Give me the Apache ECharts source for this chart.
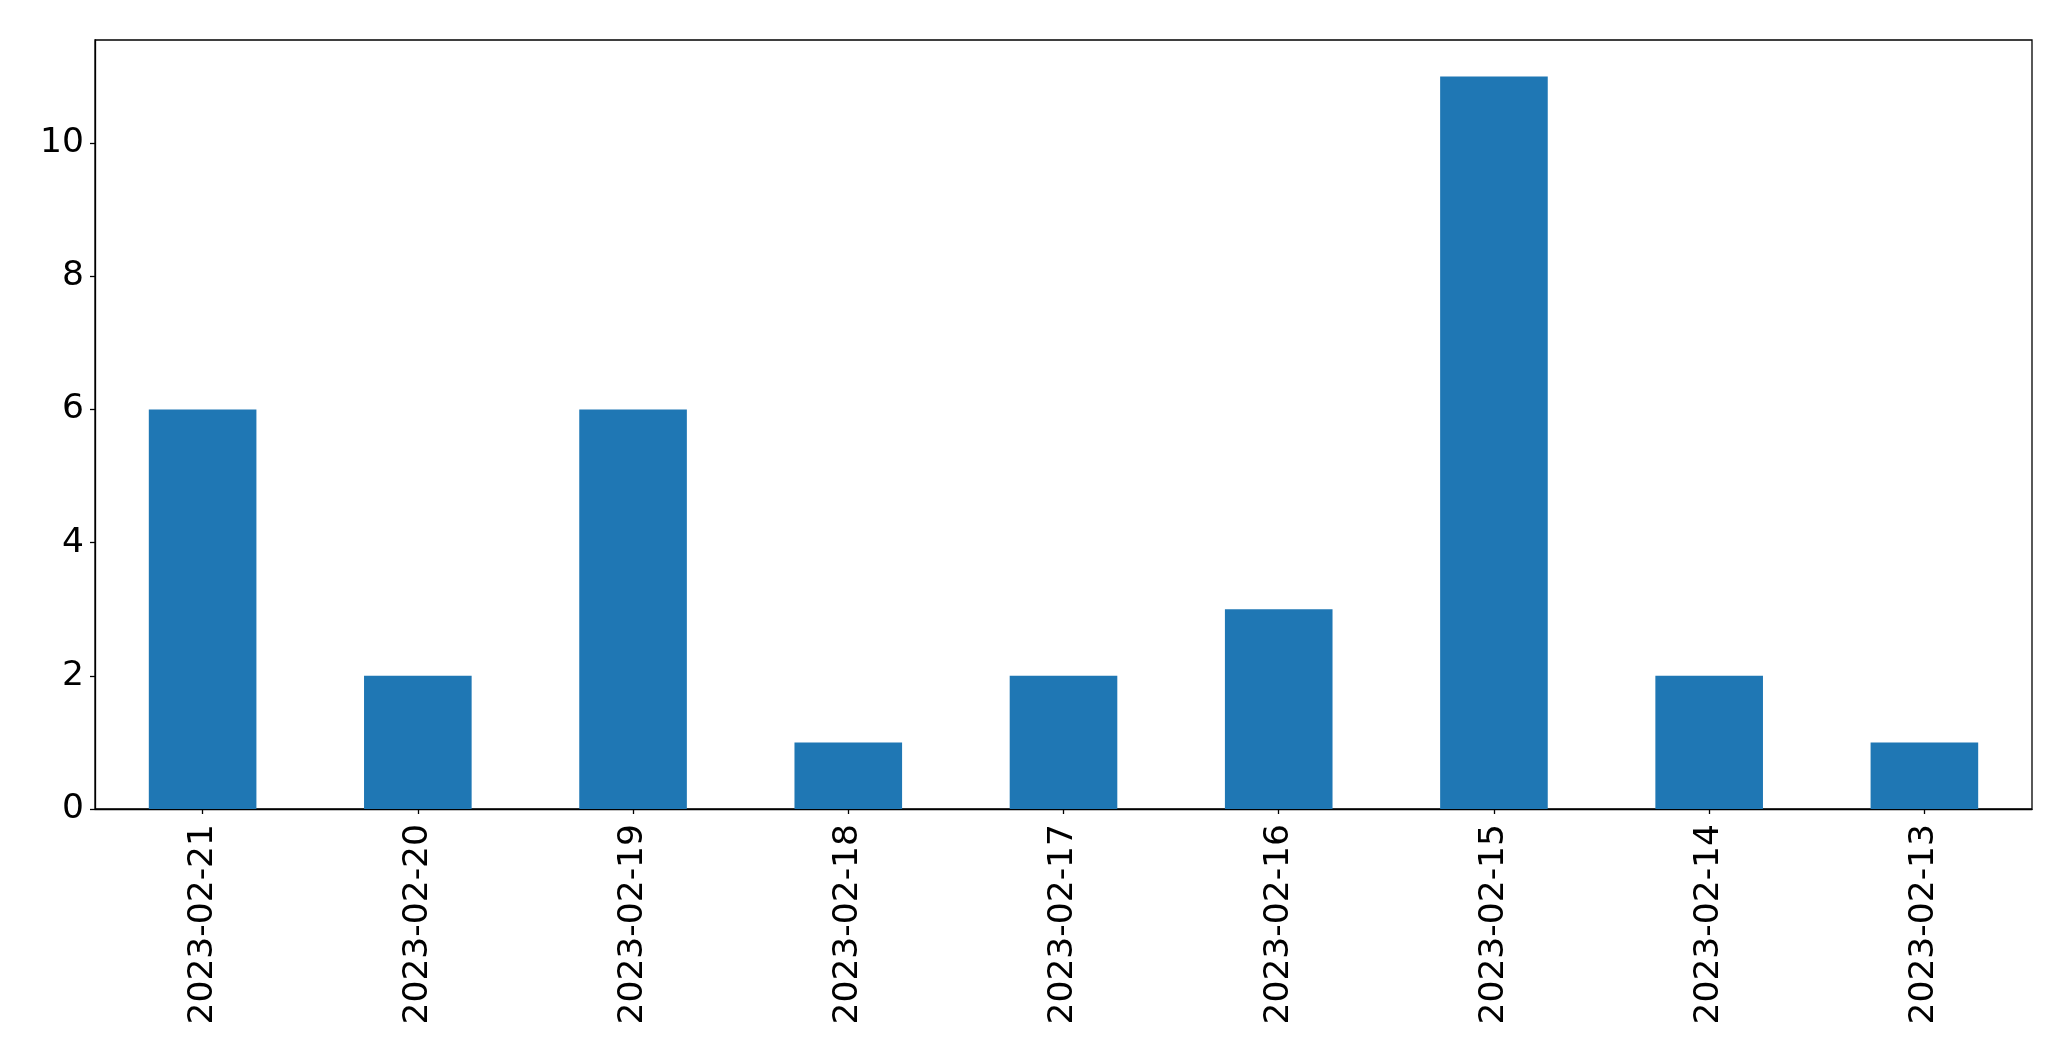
<!DOCTYPE html>
<html>
<head>
<meta charset="utf-8">
<script src="https://cdn.jsdelivr.net/npm/echarts@6/dist/echarts.min.js"></script>
<style>
html,body{margin:0;padding:0;background:#fff;}
#chart{width:2071px;height:1061px;}
</style>
</head>
<body>
<div id="chart"></div>
<script>
const categories = ["2023-02-21","2023-02-20","2023-02-19","2023-02-18","2023-02-17","2023-02-16","2023-02-15","2023-02-14","2023-02-13"];
const counts = [6, 2, 6, 1, 2, 3, 11, 2, 1];
const yTicks = [0, 2, 4, 6, 8, 10];

const chart = echarts.init(document.getElementById('chart'), null, {renderer: 'canvas'});
const font = 'DejaVu Sans';
chart.setOption({
  animation: false,
  backgroundColor: '#ffffff',
  grid: {
    left: 95, right: 39, top: 40, bottom: 252,
    show: true, borderColor: '#000', borderWidth: 1.3, backgroundColor: 'transparent'
  },
  xAxis: {
    type: 'category',
    data: categories,
    axisLine: {show: true, lineStyle: {color: '#000', width: 1.3}},
    axisTick: {show: true, alignWithLabel: true, length: 5, lineStyle: {color: '#000', width: 1.3}},
    axisLabel: {rotate: 90, margin: 15, color: '#000', fontFamily: font, fontSize: 34.5, interval: 0},
    splitLine: {show: false}
  },
  yAxis: {
    type: 'value',
    min: 0, max: 11.55, interval: 2,
    axisLine: {show: true, lineStyle: {color: '#000', width: 1.3}},
    axisTick: {show: true, length: 5, customValues: yTicks, lineStyle: {color: '#000', width: 1.3}},
    axisLabel: {color: '#000', fontFamily: font, fontSize: 34.5, margin: 11, customValues: yTicks},
    splitLine: {show: false}
  },
  series: [{
    type: 'bar',
    data: counts,
    barWidth: '50%',
    itemStyle: {color: '#1f77b4'}
  }]
});
</script>
</body>
</html>
